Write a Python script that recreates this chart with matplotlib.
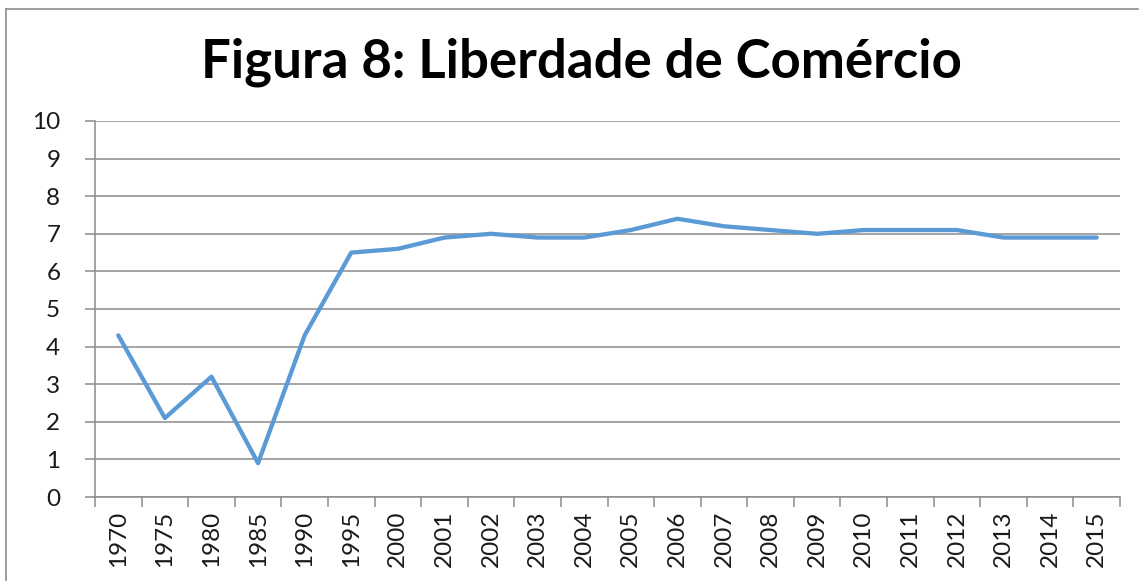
import matplotlib
matplotlib.use("Agg")
import matplotlib.pyplot as plt
from matplotlib.lines import Line2D

years = ["1970", "1975", "1980", "1985", "1990", "1995", "2000", "2001", "2002", "2003", "2004",
         "2005", "2006", "2007", "2008", "2009", "2010", "2011", "2012", "2013", "2014", "2015"]
values = [4.3, 2.1, 3.2, 0.9, 4.3, 6.5, 6.6, 6.9, 7.0, 6.9, 6.9,
          7.1, 7.4, 7.2, 7.1, 7.0, 7.1, 7.1, 7.1, 6.9, 6.9, 6.9]
yticks = list(range(0, 11))
title = "Figura 8: Liberdade de Comércio"

W, H = 1141, 581
fig = plt.figure(figsize=(W / 100, H / 100), dpi=100)
fig.patch.set_facecolor("white")

left, right, top, bottom = 95, 1120, 121, 497
ax = fig.add_axes([left / W, 1 - bottom / H, (right - left) / W, (bottom - top) / H])

n = len(years)
x = list(range(n))
ax.plot(x, values, color="#5B9BD5", linewidth=3.1, solid_joinstyle="round", solid_capstyle="round")

ax.set_xlim(-0.5, n - 0.5)
ax.set_ylim(0, 10)

grid_c = "#8c8c8c"
ax.set_yticks(yticks)
ax.set_yticklabels([str(t) for t in yticks], fontfamily="Lato", fontsize=17.5, color="#1a1a1a")
ax.yaxis.grid(True, color=grid_c, linewidth=1.1)
ax.set_axisbelow(True)

ax.set_xticks(x)
ax.set_xticklabels(years, rotation=90, fontfamily="Lato", fontsize=17.5, color="#1a1a1a")
ax.set_xticks([i - 0.5 for i in range(n + 1)], minor=True)

ax.tick_params(axis="x", which="major", length=0, pad=10)
ax.tick_params(axis="x", which="minor", length=7, width=1.1, color=grid_c, direction="out")
ax.tick_params(axis="y", which="major", length=7, width=1.1, color=grid_c, direction="out", pad=18)

for s in ["top", "right"]:
    ax.spines[s].set_visible(False)
for s in ["left", "bottom"]:
    ax.spines[s].set_color(grid_c)
    ax.spines[s].set_linewidth(1.1)

fig.text(581 / W, 1 - 62 / H, title, ha="center", va="center",
         fontfamily="Lato", fontweight="bold", fontsize=38, color="#000000")

# chart border (left and top visible)
fig.add_artist(Line2D([6 / W, 6 / W], [0, 1 - 9 / H], transform=fig.transFigure,
                      color="#8c8c8c", linewidth=1.2))
fig.add_artist(Line2D([6 / W, 1138 / W], [1 - 9 / H, 1 - 9 / H], transform=fig.transFigure,
                      color="#8c8c8c", linewidth=1.2))

fig.savefig("out.png", dpi=100, facecolor="white")
